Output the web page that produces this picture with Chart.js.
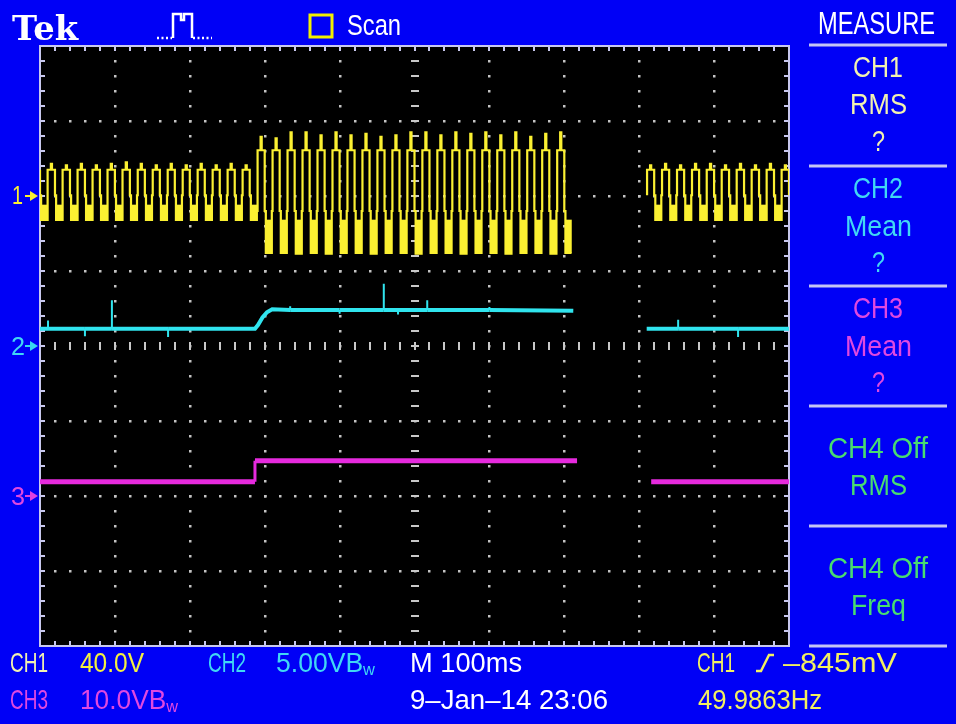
<!DOCTYPE html>
<html>
<head>
<meta charset="utf-8">
<script src="https://cdn.jsdelivr.net/npm/chart.js@4.4.1/dist/chart.umd.min.js"></script>
<style>
  html, body { margin: 0; padding: 0; background: #0000f6; }
  #wrap { position: relative; width: 956px; height: 724px; overflow: hidden; background: #0000f6; }
  #scope { position: absolute; left: 0; top: 0; }
  #deco { position: absolute; left: 0; top: 0; }
  .lab { position: absolute; white-space: pre; line-height: 1; transform-origin: 0 0;
         font-family: "Liberation Sans", Arial, sans-serif; }
</style>
</head>
<body>
<div id="wrap">
  <canvas id="scope" width="956" height="724"></canvas>
  <svg id="deco" width="956" height="724" fill="none" stroke-linecap="butt">
    <!-- trigger icon -->
    <path d="M157 38H172M193 38H212" stroke="#fff" stroke-width="2.5" stroke-dasharray="2 2.5"/>
    <path d="M173 38V14H181V20H184V14H192V38" stroke="#fff" stroke-width="2.5"/>
    <!-- scan box -->
    <rect x="310" y="15" width="22" height="22" stroke="#f2f000" stroke-width="3"/>
    <!-- channel markers -->
    <path d="M25 196H31" stroke="#fbf032" stroke-width="2"/><path d="M30 191L38 196L30 201Z" fill="#fbf032"/>
    <path d="M25 346H31" stroke="#38d8f0" stroke-width="2"/><path d="M30 341L38 346L30 351Z" fill="#38d8f0"/>
    <path d="M25 496H31" stroke="#e040e0" stroke-width="2"/><path d="M30 491L38 496L30 501Z" fill="#e040e0"/>
    <!-- trigger slope -->
    <path d="M756 671H761L769 655H774" stroke="#f2f060" stroke-width="2.5"/>
    <!-- measure menu separators -->
    <g stroke="#c4c4f4" stroke-width="3">
      <path d="M809 45H947M809 166H947M809 286H947M809 406H947M809 526H947M809 646H947"/>
    </g>
  </svg>
</div>
<script>
// screen: M 100ms/div x 10 div, 8 vertical div, 0 = centre line
const xMin = 0, xMax = 1000;
const yMin = -4, yMax = 4;

// CH1 (49.9863 Hz -> one cycle per 20 ms), one entry per cycle, first spike at -4 ms
// levels in div; null where the scan has not drawn the trace
const ch1Period = 20;
const ch1FirstSpike = -4;
const ch1Peak = [
  2.41, 2.43, 2.41, 2.43, 2.41, 2.43, 2.45, 2.43, 2.41, 2.43, 2.41, 2.43, 2.41, 2.43, 2.41,
  2.79, 2.77, 2.85, 2.85, 2.81, 2.85, 2.81, 2.83, 2.79, 2.81, 2.85, 2.85, 2.81, 2.85, 2.83, 2.85, 2.81, 2.85, 2.79, 2.83, 2.85,
  null, null, null, null, null,
  2.41, 2.43, 2.41, 2.43, 2.43, 2.41, 2.43, 2.41, 2.43, 2.41
];
const ch1High = [
  2.35, 2.35, 2.35, 2.35, 2.35, 2.35, 2.35, 2.35, 2.35, 2.35, 2.35, 2.35, 2.35, 2.35, 2.35,
  2.61, 2.61, 2.61, 2.61, 2.61, 2.61, 2.61, 2.61, 2.61, 2.61, 2.61, 2.61, 2.61, 2.61, 2.61, 2.61, 2.61, 2.61, 2.61, 2.61, 2.61,
  null, null, null, null, null,
  2.35, 2.35, 2.35, 2.35, 2.35, 2.35, 2.35, 2.35, 2.35, 2.35
];
const ch1Mid = [
  2.01, 2.01, 2.01, 2.01, 2.01, 2.01, 2.01, 2.01, 2.01, 2.01, 2.01, 2.01, 2.01, 2.01, 2.01,
  1.80, 1.80, 1.80, 1.80, 1.80, 1.80, 1.80, 1.80, 1.80, 1.80, 1.80, 1.80, 1.80, 1.80, 1.80, 1.80, 1.80, 1.80, 1.80, 1.80, 1.80,
  null, null, null, null, null,
  2.01, 2.01, 2.01, 2.01, 2.01, 2.01, 2.01, 2.01, 2.01, 2.01
];
const ch1BandTop = [
  1.88, 1.88, 1.88, 1.88, 1.88, 1.88, 1.88, 1.88, 1.88, 1.88, 1.88, 1.88, 1.88, 1.88, 1.88,
  1.68, 1.68, 1.68, 1.68, 1.68, 1.68, 1.68, 1.68, 1.68, 1.68, 1.68, 1.68, 1.68, 1.68, 1.68, 1.68, 1.68, 1.68, 1.68, 1.68, 1.68,
  null, null, null, null, null,
  1.88, 1.88, 1.88, 1.88, 1.88, 1.88, 1.88, 1.88, 1.88, 1.88
];
const ch1Low = [
  1.68, 1.68, 1.68, 1.68, 1.68, 1.68, 1.68, 1.68, 1.68, 1.68, 1.68, 1.68, 1.68, 1.68, 1.68,
  1.24, 1.24, 1.23, 1.24, 1.23, 1.24, 1.24, 1.23, 1.24, 1.24, 1.23, 1.24, 1.24, 1.23, 1.24, 1.24, 1.23, 1.24, 1.24, 1.23, 1.24,
  null, null, null, null, null,
  1.68, 1.68, 1.68, 1.68, 1.68, 1.68, 1.68, 1.68, 1.68, 1.68
];
const ch1Drawn = [[0, 712], [810, 1000]];

// CH2 (ms, div)
const ch2Time  = [0, 10.7, 10.7, 10.7, 60, 60, 60, 96, 96, 96, 171, 171, 171, 287, 291, 297, 303, 310,
                  334, 334, 334, 400, 400, 400, 459, 459, 459, 478, 478, 478, 517, 517, 517, 600, 600, 600, 712,
                  760, 810, 852, 852, 852, 932, 932, 932, 1000];
const ch2Level = [0.23, 0.23, 0.34, 0.23, 0.23, 0.13, 0.23, 0.23, 0.61, 0.23, 0.23, 0.12, 0.23, 0.23, 0.28, 0.38, 0.45, 0.49,
                  0.48, 0.53, 0.48, 0.48, 0.43, 0.48, 0.48, 0.83, 0.48, 0.48, 0.42, 0.48, 0.48, 0.61, 0.48, 0.48, 0.52, 0.48, 0.47,
                  null, 0.23, 0.23, 0.35, 0.23, 0.23, 0.12, 0.23, 0.23];

// CH3 (ms, div)
const ch3Time  = [0, 287, 287, 717, 760, 816, 1000];
const ch3Level = [-1.81, -1.81, -1.53, -1.53, null, -1.81, -1.81];

const colCh1 = '#fbf032', colCh2 = '#30e4ee', colCh3 = '#e62ade';

function inDrawn(t) {
  return ch1Drawn.some(([a, b]) => t >= a && t <= b);
}

function ch1Line() {
  const pts = [];
  ch1Drawn.forEach(([from, to], s) => {
    if (s > 0) pts.push({x: from - 1, y: null});
    ch1Peak.forEach((pk, i) => {
      if (pk === null) return;
      const t = ch1FirstSpike + i * ch1Period;
      const hi = ch1High[i], md = ch1Mid[i], lo = ch1Low[i];
      [[t - 6.5, md], [t - 5.5, md], [t - 5.5, hi], [t - 1.5, hi], [t - 1.5, pk], [t, pk], [t, hi],
       [t + 4, hi], [t + 4, md], [t + 5.5, md], [t + 5.5, lo], [t + 13.5, lo]]
        .forEach(([x, y]) => { if (x >= from && x <= to) pts.push({x, y}); });
    });
  });
  return pts;
}

function ch1Bands() {
  const out = [];
  ch1Peak.forEach((pk, i) => {
    if (pk === null) return;
    const c = ch1FirstSpike + i * ch1Period + 9.5;
    if (inDrawn(c)) out.push({x: c, y: [ch1Low[i], ch1BandTop[i]]});
  });
  return out;
}

const pairs = (ts, vs) => ts.map((t, i) => ({x: t, y: vs[i]}));
const vertThin = (thin, thick) => c => Math.abs(c.p0.parsed.x - c.p1.parsed.x) < 1e-6 ? thin : thick;

const scopeGrid = {
  id: 'scopeGrid',
  beforeDraw(chart) {
    const {ctx, chartArea: a} = chart;
    ctx.save();
    ctx.fillStyle = '#000';
    ctx.fillRect(a.left, a.top, a.right - a.left, a.bottom - a.top);
    ctx.restore();
  },
  beforeDatasetsDraw(chart) {
    const {ctx, chartArea: a, scales: {x, y}} = chart;
    const X = v => Math.round(x.getPixelForValue(v));
    const Y = v => Math.round(y.getPixelForValue(v));
    ctx.save();
    // dotted graticule
    ctx.fillStyle = '#c4c4c4';
    for (let i = 1; i < 10; i++) {
      if (i === 5) continue;
      for (let j = 1; j < 40; j++) ctx.fillRect(X(i * 100) - 1, Y(-4 + j * 0.2) - 1, 2.5, 2.5);
    }
    for (let j = 1; j < 8; j++) {
      if (j === 4) continue;
      for (let i = 1; i < 50; i++) ctx.fillRect(X(i * 20) - 1, Y(-4 + j) - 1, 2.5, 2.5);
    }
    // centre lines with minor ticks
    ctx.strokeStyle = '#c8c8c8';
    ctx.lineWidth = 2;
    ctx.beginPath();
    for (let i = 1; i < 50; i++) { const px = X(i * 20); ctx.moveTo(px, Y(0) - 4); ctx.lineTo(px, Y(0) + 4); }
    for (let j = 1; j < 40; j++) { const py = Y(-4 + j * 0.2); ctx.moveTo(X(500) - 4, py); ctx.lineTo(X(500) + 4, py); }
    ctx.stroke();
    // border with inward ticks
    ctx.strokeStyle = '#c8c8ee';
    ctx.beginPath();
    for (let i = 1; i < 50; i++) {
      const px = X(i * 20);
      ctx.moveTo(px, a.top); ctx.lineTo(px, a.top + 5);
      ctx.moveTo(px, a.bottom); ctx.lineTo(px, a.bottom - 5);
    }
    for (let j = 1; j < 40; j++) {
      const py = Y(-4 + j * 0.2);
      ctx.moveTo(a.left, py); ctx.lineTo(a.left + 5, py);
      ctx.moveTo(a.right, py); ctx.lineTo(a.right - 5, py);
    }
    ctx.stroke();
    ctx.strokeRect(a.left, a.top, a.right - a.left, a.bottom - a.top);
    ctx.restore();
  }
};

new Chart(document.getElementById('scope'), {
  type: 'line',
  data: {
    datasets: [
      {
        label: 'CH1',
        data: ch1Line(),
        borderColor: colCh1,
        borderWidth: 2.2,
        spanGaps: false,
      },
      {
        label: 'CH1 band',
        type: 'bar',
        data: ch1Bands(),
        backgroundColor: colCh1,
        borderWidth: 0,
        borderSkipped: false,
        barThickness: 6,
      },
      {
        label: 'CH2',
        data: pairs(ch2Time, ch2Level),
        borderColor: colCh2,
        borderWidth: 4,
        spanGaps: false,
        segment: {borderWidth: vertThin(2, 4)},
      },
      {
        label: 'CH3',
        data: pairs(ch3Time, ch3Level),
        borderColor: colCh3,
        borderWidth: 5,
        spanGaps: false,
        segment: {borderWidth: vertThin(3, 5)},
      }
    ]
  },
  options: {
    responsive: false,
    animation: false,
    layout: {padding: {left: 40, top: 46, right: 167, bottom: 78}},
    elements: {point: {radius: 0}, line: {tension: 0, borderJoinStyle: 'miter'}},
    plugins: {legend: {display: false}, tooltip: {enabled: false}},
    scales: {
      x: {type: 'linear', min: xMin, max: xMax, offset: false, display: false},
      y: {type: 'linear', min: yMin, max: yMax, display: false}
    }
  },
  plugins: [scopeGrid]
});

// on-screen readouts
const wrap = document.getElementById('wrap');
function label(html, x, capTop, capH, w, color, o = {}) {
  const ratio = o.ratio || 0.716;
  const fs = capH / ratio;
  const el = document.createElement('div');
  el.className = 'lab';
  el.style.fontSize = fs + 'px';
  el.style.color = color;
  if (o.font) el.style.fontFamily = o.font;
  if (o.weight) el.style.fontWeight = o.weight;
  el.innerHTML = html;
  wrap.appendChild(el);
  const nat = el.getBoundingClientRect().width;
  const left = o.center ? x - w / 2 : x;
  el.style.left = left + 'px';
  el.style.top = (capTop - (o.lead || 0.13) * fs) + 'px';
  el.style.transform = 'scaleX(' + (w / nat) + ')';
}

const paleY = '#f2f2b0', yel = '#f2f060', cyan = '#40d8f4', mag = '#e048e0', grn = '#48dc70', wht = '#ffffff';
const bw = 'B<span style="font-size:.62em;vertical-align:-.2em">w</span>';

label('Tek', 12, 17, 24, 66, wht, {font: '"DejaVu Serif", serif', weight: 'bold', ratio: 0.729, lead: 0.117});
label('Scan', 347, 14, 21, 54, wht);
label('MEASURE', 818, 13, 22, 117, wht);

[['CH1', 56, 50], ['RMS', 93, 57], ['?', 130, 13]].forEach(r => label(r[0], 878, r[1], 21, r[2], paleY, {center: true}));
[['CH2', 177, 50], ['Mean', 215, 67], ['?', 251, 13]].forEach(r => label(r[0], 878, r[1], 21, r[2], cyan, {center: true}));
[['CH3', 297, 50], ['Mean', 335, 67], ['?', 371, 13]].forEach(r => label(r[0], 878, r[1], 21, r[2], mag, {center: true}));
[['CH4 Off', 437, 100], ['RMS', 474, 57], ['CH4 Off', 557, 100], ['Freq', 594, 55]]
  .forEach(r => label(r[0], 878, r[1], 21, r[2], grn, {center: true}));

label('1', 12, 185, 19, 11, colCh1);
label('2', 11, 336, 19, 14, cyan);
label('3', 11, 486, 19, 14, mag);

label('CH1', 10, 653, 20, 38, paleY);
label('40.0V', 80, 653, 20, 64, '#f4f040');
label('CH2', 208, 653, 20, 38, cyan);
label('5.00V' + bw, 276, 653, 20, 99, cyan);
label('M 100ms', 410, 653, 20, 112, wht);
label('CH1', 697, 653, 20, 38, yel);
label('\u2013845mV', 783, 653, 20, 114, yel);

label('CH3', 10, 690, 20, 38, mag);
label('10.0V' + bw, 80, 690, 20, 98, mag);
label('9\u2013Jan\u201314 23:06', 410, 690, 20, 198, wht);
label('49.9863Hz', 698, 690, 20, 124, yel);
</script>
</body>
</html>
